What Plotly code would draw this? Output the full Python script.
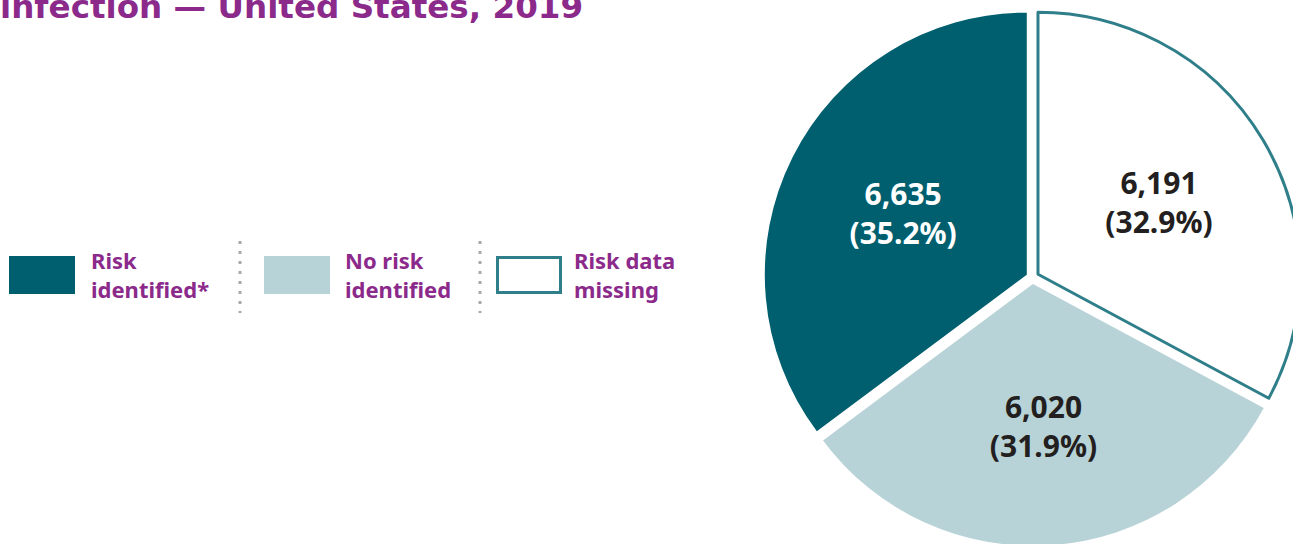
import plotly.graph_objects as go

# ---- data ----
categories = ["Risk identified*", "No risk identified", "Risk data missing"]
legend_lines = ["Risk<br>identified*", "No risk<br>identified", "Risk data<br>missing"]
values = [6635, 6020, 6191]
title_text = "infection — United States, 2019"

# ---- styles ----
fill_colors = ["#005f6e", "#b8d3d7", "#ffffff"]
line_colors = ["#005f6e", "#b8d3d7", "#2f7f8b"]
line_widths = [0, 0, 3]
label_colors = ["#ffffff", "#231f20", "#231f20"]
purple = "#8b2a8b"

W, H = 1302, 556  # canvas (the window crops the right/bottom edge)

def px(x):
    return x / W

def py(y):
    return 1 - y / H

total = sum(values)
labels_text = [f"{v:,}<br>({v / total * 100:.1f}%)" for v in values]

# pie box in pixels
cx, cy, rtot = 1032.5, 277.5, 268.4

# slices drawn clockwise from 12 o'clock in reverse legend order
order = list(reversed(range(len(categories))))

fig = go.Figure()
fig.add_trace(go.Pie(
    labels=[categories[i] for i in order],
    values=[values[i] for i in order],
    text=[labels_text[i] for i in order],
    textinfo="text",
    textposition="inside",
    insidetextorientation="horizontal",
    sort=False,
    direction="clockwise",
    rotation=0,
    pull=[0.0244] * len(order),
    marker=dict(colors=[fill_colors[i] for i in order],
                line=dict(color=[line_colors[i] for i in order],
                          width=[line_widths[i] for i in order])),
    textfont=dict(family="Noto Sans", size=30,
                  color=[label_colors[i] for i in order], weight="bold"),
    hoverinfo="skip",
    showlegend=False,
    domain=dict(x=[px(cx - rtot), px(cx + rtot)], y=[py(cy + rtot), py(cy - rtot)]),
))

shapes = []
annotations = []

# title (cropped at top, as in the reference)
annotations.append(dict(
    text=f"<b>{title_text}</b>", x=px(-2), y=py(28), xref="paper", yref="paper",
    xanchor="left", yanchor="bottom", showarrow=False,
    font=dict(family="DejaVu Sans", size=32.6, color=purple),
))

# custom legend
box_x = [9, 264, 496]
text_x = [91, 345, 574]
box_w, box_top, box_bot = 66, 256, 294
for i in range(len(categories)):
    inset = line_widths[i] / 2 if line_widths[i] else 0
    shapes.append(dict(
        type="rect", xref="paper", yref="paper",
        x0=px(box_x[i] + inset), x1=px(box_x[i] + box_w - inset),
        y0=py(box_bot - inset), y1=py(box_top + inset),
        fillcolor=fill_colors[i],
        line=dict(color=line_colors[i], width=line_widths[i]),
    ))
    annotations.append(dict(
        text=f"<b>{legend_lines[i]}</b>", x=px(text_x[i] - 2), y=py(274),
        xref="paper", yref="paper", xanchor="left", yanchor="middle",
        align="left", showarrow=False,
        font=dict(family="Noto Sans", size=22, color=purple),
    ))

# dotted separators
for sx in [240, 480]:
    shapes.append(dict(
        type="line", xref="paper", yref="paper",
        x0=px(sx), x1=px(sx), y0=py(241), y1=py(313),
        line=dict(color="#a7a9ac", width=3, dash="3px,7px"),
    ))

fig.update_layout(
    width=W, height=H,
    margin=dict(l=0, r=0, t=0, b=0),
    paper_bgcolor="white", plot_bgcolor="white",
    shapes=shapes, annotations=annotations,
)

fig.write_html(
    "out.html",
    config={"displayModeBar": False, "responsive": False},
    post_script="document.documentElement.style.overflow='hidden';"
                "document.body.style.overflow='hidden';"
                "document.body.style.margin='0';",
)
